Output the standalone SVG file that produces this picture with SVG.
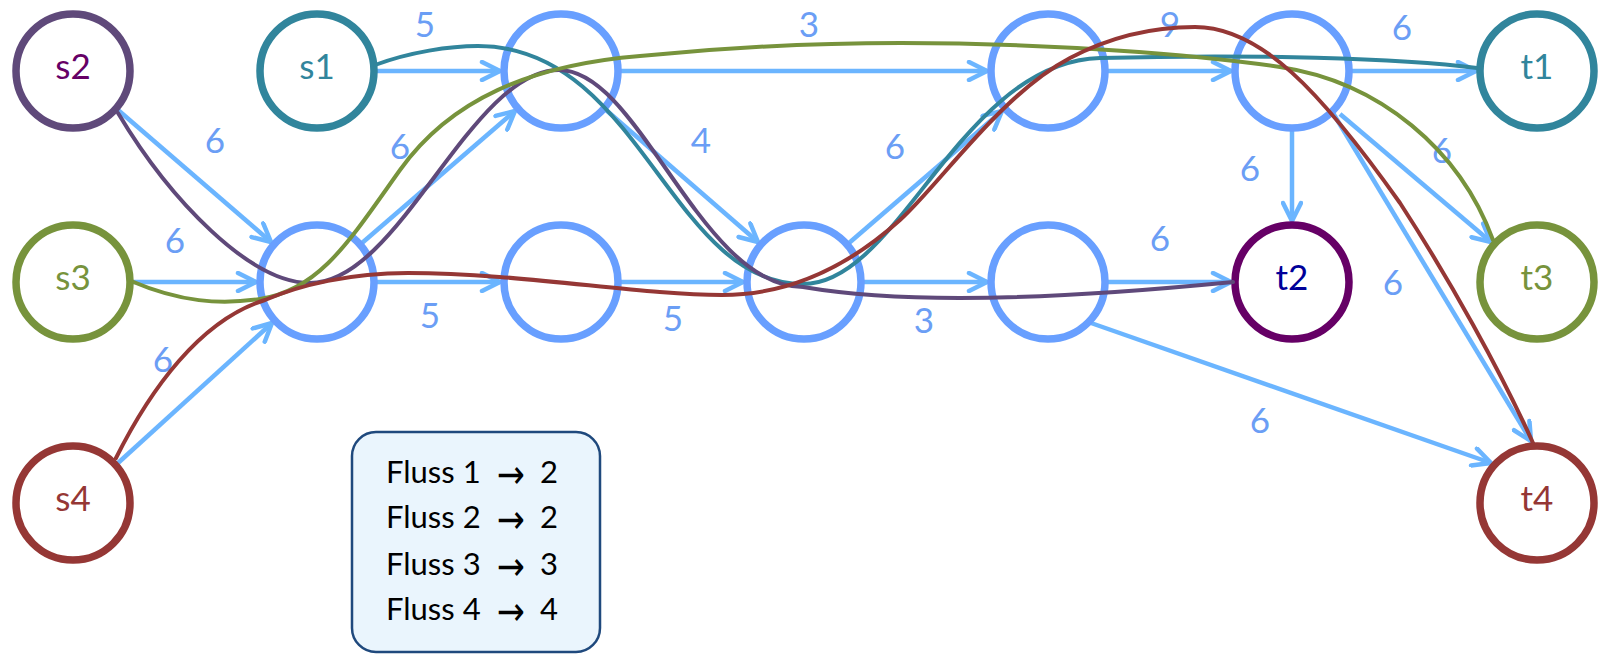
<svg xmlns="http://www.w3.org/2000/svg" width="1602" height="654" viewBox="0 0 1602 654">
<style>
.node{fill:#fff;stroke-width:7.5}
.blue{stroke:#689FFF}
.lbl{font-family:Lato,"Liberation Sans",sans-serif;font-size:35px;text-anchor:middle}
.edge{fill:none;stroke:#6BB5FF;stroke-width:4.5;marker-end:url(#arr)}
.elbl{font-family:Lato,"Liberation Sans",sans-serif;font-size:35px;text-anchor:middle;fill:#6B9EF5}
.flow{fill:none;stroke-width:4;stroke-linecap:round}
.leg{font-family:Lato,"Liberation Sans",sans-serif;font-size:31px;fill:#000}
.arrw{font-family:"DejaVu Sans",sans-serif;font-size:40px}
</style>
<defs>
<marker id="arr" viewBox="0 0 26 22" refX="22" refY="11" markerWidth="26" markerHeight="22" markerUnits="userSpaceOnUse" orient="auto">
<path d="M4,2 L22,11 L4,20" fill="none" stroke="#6BB5FF" stroke-width="4.5" stroke-linecap="round" stroke-linejoin="round"/>
</marker>
</defs>
<g id="connectors">
<g id="edges">
<line class="edge" x1="377" y1="71" x2="500" y2="71"/>
<line class="edge" x1="621" y1="71" x2="987" y2="71"/>
<line class="edge" x1="1108" y1="71" x2="1231" y2="71"/>
<line class="edge" x1="1352" y1="71" x2="1476" y2="71"/>
<line class="edge" x1="118" y1="110" x2="271" y2="242"/>
<line class="edge" x1="133" y1="282" x2="256" y2="282"/>
<line class="edge" x1="118" y1="463" x2="272" y2="323"/>
<line class="edge" x1="362" y1="243" x2="515" y2="111"/>
<line class="edge" x1="377" y1="282" x2="500" y2="282"/>
<line class="edge" x1="621" y1="282" x2="743" y2="282"/>
<line class="edge" x1="606" y1="110" x2="758" y2="242"/>
<line class="edge" x1="849" y1="243" x2="1002" y2="111"/>
<line class="edge" x1="864" y1="282" x2="987" y2="282"/>
<line class="edge" x1="1108" y1="282" x2="1231" y2="282"/>
<line class="edge" x1="1292" y1="131" x2="1292" y2="221"/>
<line class="edge" x1="1340" y1="114" x2="1491" y2="242"/>
<line class="edge" x1="1333" y1="113" x2="1531" y2="441"/>
<line class="edge" x1="1091" y1="323" x2="1491" y2="463"/>
</g>
<g id="edge-labels">
<text class="elbl" x="425" y="37">5</text>
<text class="elbl" x="809" y="37">3</text>
<text class="elbl" x="1170" y="37">9</text>
<text class="elbl" x="1402" y="40">6</text>
<text class="elbl" x="215" y="153">6</text>
<text class="elbl" x="175" y="253">6</text>
<text class="elbl" x="163" y="372">6</text>
<text class="elbl" x="400" y="159">6</text>
<text class="elbl" x="430" y="328">5</text>
<text class="elbl" x="673" y="331">5</text>
<text class="elbl" x="701" y="153">4</text>
<text class="elbl" x="895" y="159">6</text>
<text class="elbl" x="924" y="333">3</text>
<text class="elbl" x="1160" y="251">6</text>
<text class="elbl" x="1250" y="181">6</text>
<text class="elbl" x="1442" y="163">6</text>
<text class="elbl" x="1393" y="295">6</text>
<text class="elbl" x="1260" y="433">6</text>
</g>
</g>
<g id="s2"><circle class="node" cx="73" cy="71" r="57" stroke="#5F497A"/><text class="lbl" x="73" y="79" fill="#660066">s2</text></g>
<g id="s1"><circle class="node" cx="317" cy="71" r="57" stroke="#31859C"/><text class="lbl" x="317" y="79" fill="#31859C">s1</text></g>
<g id="a"><circle class="node blue" cx="561" cy="71" r="57"/></g>
<g id="e"><circle class="node blue" cx="1048" cy="71" r="57"/></g>
<g id="g"><circle class="node blue" cx="1292" cy="71" r="57"/></g>
<g id="t1"><circle class="node" cx="1537" cy="71" r="57" stroke="#31859C"/><text class="lbl" x="1537" y="79" fill="#31859C">t1</text></g>
<g id="s3"><circle class="node" cx="73" cy="282" r="57" stroke="#77933C"/><text class="lbl" x="73" y="290" fill="#77933C">s3</text></g>
<g id="b"><circle class="node blue" cx="317" cy="282" r="57"/></g>
<g id="c"><circle class="node blue" cx="561" cy="282" r="57"/></g>
<g id="d"><circle class="node blue" cx="804" cy="282" r="57"/></g>
<g id="f"><circle class="node blue" cx="1048" cy="282" r="57"/></g>
<g id="t2"><circle class="node" cx="1292" cy="282" r="57" stroke="#660066"/><text class="lbl" x="1292" y="290" fill="#000099">t2</text></g>
<g id="t3"><circle class="node" cx="1537" cy="282" r="57" stroke="#77933C"/><text class="lbl" x="1537" y="290" fill="#77933C">t3</text></g>
<g id="s4"><circle class="node" cx="73" cy="503" r="57" stroke="#953735"/><text class="lbl" x="73" y="511" fill="#953735">s4</text></g>
<g id="t4"><circle class="node" cx="1537" cy="503" r="57" stroke="#953735"/><text class="lbl" x="1537" y="511" fill="#953735">t4</text></g>
<g id="flows">
<path class="flow" stroke="#31859C" d="M375,65 C410,52 450,46 478,46 C640,46 670,284 803,284 C900,284 960,62 1100,58 C1250,54 1400,58 1477,68"/>
<path class="flow" stroke="#5F497A" d="M118,113 C170,200 250,283 310,283 C400,283 470,70 559,70 C640,70 700,287 803,287 C880,300 1000,305 1233,282"/>
<path class="flow" stroke="#77933C" d="M131,281 C180,302 220,305 260,299 C320,290 350,240 400,170 C450,100 530,65 640,56 C720,48 800,43 901,43 C1050,43 1200,55 1280,67 C1380,82 1460,150 1493,240"/>
<path class="flow" stroke="#953735" d="M116,458 C150,390 200,320 265,300 C300,285 350,273 408,273 C520,273 640,295 722,295 C790,295 850,265 900,220 C940,184 1000,95 1070,58 C1110,37 1150,27 1195,27 C1260,27 1320,90 1400,203 C1450,280 1500,370 1533,443"/>
</g>
<g id="legend">
<rect x="352" y="432" width="248" height="220" rx="24" fill="#EAF5FD" stroke="#1F497D" stroke-width="2.5"/>
<text class="leg" x="386" y="483">Fluss 1<tspan class="arrw" x="497" y="488" textLength="28" lengthAdjust="spacingAndGlyphs">→</tspan><tspan x="540" y="483">2</tspan></text>
<text class="leg" x="386" y="528">Fluss 2<tspan class="arrw" x="497" y="533" textLength="28" lengthAdjust="spacingAndGlyphs">→</tspan><tspan x="540" y="528">2</tspan></text>
<text class="leg" x="386" y="575">Fluss 3<tspan class="arrw" x="497" y="580" textLength="28" lengthAdjust="spacingAndGlyphs">→</tspan><tspan x="540" y="575">3</tspan></text>
<text class="leg" x="386" y="620">Fluss 4<tspan class="arrw" x="497" y="625" textLength="28" lengthAdjust="spacingAndGlyphs">→</tspan><tspan x="540" y="620">4</tspan></text>
</g>
</svg>
